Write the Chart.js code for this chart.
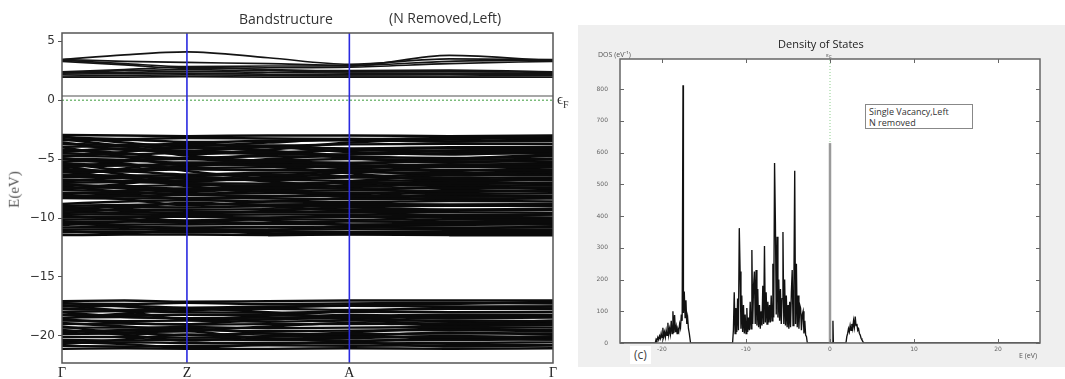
<!DOCTYPE html>
<html>
<head>
<meta charset="utf-8">
<script src="https://cdn.jsdelivr.net/npm/chart.js@4.4.1/dist/chart.umd.min.js"></script>
<style>
  body { margin: 0; background: #fff; width: 1065px; height: 379px; overflow: hidden; position: relative; font-family: 'Open Sans', sans-serif; }
  .txt { position: absolute; white-space: nowrap; line-height: 1; }
  #bandWrap { position: absolute; left: 0; top: 0; width: 575px; height: 379px; }
  #dosWrap { position: absolute; left: 578px; top: 25px; width: 487px; height: 342px; background: #efefef; }
</style>
</head>
<body>
<div id="bandWrap"><canvas id="bandChart" width="575" height="379"></canvas></div>
<div id="dosWrap"><canvas id="dosChart" width="487" height="342"></canvas></div>

<!-- left panel texts -->
<div class="txt" style="left:239px; top:12px; font-size:14px; color:#333;">Bandstructure</div>
<div class="txt" style="left:389px; top:11px; font-size:14px; color:#333;">(N Removed,Left)</div>
<div class="txt" style="left:-4px; top:182px; font-family:'Liberation Serif',serif; font-size:15px; color:#555; transform:rotate(-90deg); transform-origin:center;">E(eV)</div>
<div class="txt" style="left:557px; top:92px; font-family:'Liberation Serif',serif; font-size:15px; color:#333;">ϵ<sub style="font-size:10px;">F</sub></div>

<!-- right panel texts -->
<div class="txt" style="left:778px; top:38px; font-size:11px; color:#222;">Density of States</div>
<div class="txt" style="left:598px; top:51px; font-size:7px; color:#555;">DOS (eV⁻¹)</div>
<div class="txt" style="left:826px; top:52px; font-size:6px; color:#666;">ε<sub>F</sub></div>
<div class="txt" style="left:865px; top:104px; width:108px; height:25px; border:1px solid #888; background:#fff; font-size:9px; line-height:11px; color:#333; padding:1px 0 0 3px; box-sizing:border-box;">Single Vacancy,Left<br>N removed</div>
<div class="txt" style="left:630px; top:346px; background:#fff; font-size:12px; color:#444; padding:3px 4px;">(c)</div>
<div class="txt" style="left:1019px; top:352px; font-size:7px; color:#555;">E (eV)</div>

<script>
// k path: Γ - Z - A - Γ
const kPoints = [0, 0.5, 1, 1.65, 2.3, 3.1, 3.93];
const kTicks = [0, 1, 2.3, 3.93];
const kLabels = ['Γ', 'Z', 'A', 'Γ'];
const energyTicks = [5, 0, -5, -10, -15, -20];
const highSym = [1, 2.3];

const conductionBands = [
  [3.45, 3.85, 4.1, 3.6, 3.05, 3.5, 3.45],
  [3.45, 3.3, 3.2, 3.1, 2.95, 3.3, 3.4],
  [3.4, 3.1, 2.85, 2.9, 2.9, 3.8, 3.35],
  [3.3, 3.0, 2.7, 2.75, 2.8, 3.1, 3.3],
  [2.4, 2.6, 2.8, 2.6, 2.5, 2.55, 2.4],
  [2.35, 2.5, 2.6, 2.5, 2.4, 2.45, 2.35],
  [2.3, 2.35, 2.45, 2.35, 2.3, 2.3, 2.3],
  [2.2, 2.25, 2.3, 2.2, 2.15, 2.2, 2.2],
  [2.05, 2.1, 2.15, 2.1, 2.05, 2.05, 2.1],
  [1.95, 1.95, 2.0, 1.95, 1.95, 1.95, 1.95],
];
const defectBand = [0.35, 0.35, 0.35, 0.35, 0.35, 0.35, 0.35];

const valenceBands = [
  [-2.95, -3.0, -3.05, -3.0, -3.0, -3.05, -3.0],
  [-3.15, -3.3, -3.2, -3.25, -3.3, -3.2, -3.15],
  [-3.4, -3.35, -3.55, -3.45, -3.4, -3.5, -3.45],
  [-3.7, -3.8, -3.7, -3.85, -3.75, -3.7, -3.7],
  [-3.95, -3.9, -4.05, -3.95, -4.1, -4.0, -3.95],
  [-4.3, -4.15, -4.3, -4.4, -4.25, -4.35, -4.3],
  [-4.5, -4.6, -4.45, -4.55, -4.6, -4.5, -4.5],
  [-4.7, -4.8, -4.9, -4.75, -4.8, -4.9, -4.75],
  [-4.95, -5.05, -4.95, -5.1, -5.0, -5.05, -5.0],
  [-5.2, -5.15, -5.3, -5.25, -5.3, -5.2, -5.2],
  [-5.4, -5.5, -5.45, -5.5, -5.55, -5.45, -5.45],
  [-5.6, -5.55, -5.75, -5.7, -5.65, -5.7, -5.65],
  [-5.9, -6.0, -5.85, -5.95, -5.9, -5.95, -5.9],
  [-6.1, -6.05, -6.3, -6.15, -6.1, -6.2, -6.1],
  [-6.3, -6.4, -6.4, -6.35, -6.45, -6.35, -6.35],
  [-6.55, -6.5, -6.6, -6.65, -6.55, -6.6, -6.55],
  [-6.75, -6.85, -6.8, -6.75, -6.85, -6.8, -6.8],
  [-7.0, -6.95, -7.05, -7.1, -7.0, -7.05, -7.0],
  [-7.2, -7.3, -7.2, -7.25, -7.3, -7.2, -7.25],
  [-7.45, -7.4, -7.5, -7.45, -7.5, -7.45, -7.45],
  [-7.65, -7.7, -7.6, -7.7, -7.65, -7.7, -7.7],
  [-7.9, -7.85, -7.95, -7.9, -7.85, -7.95, -7.9],
  [-8.1, -8.15, -8.05, -8.15, -8.1, -8.2, -8.15],
  [-8.3, -8.35, -8.3, -8.35, -8.4, -8.35, -8.35],
  [-8.8, -8.6, -8.5, -8.6, -8.65, -8.55, -8.6],
  [-8.95, -8.9, -8.8, -8.85, -8.8, -8.85, -8.8],
  [-9.15, -9.05, -9.1, -9.0, -9.0, -8.95, -8.95],
  [-9.35, -9.3, -9.3, -9.25, -9.3, -9.3, -9.3],
  [-9.5, -9.55, -9.5, -9.5, -9.5, -9.5, -9.55],
  [-9.7, -9.7, -9.75, -9.7, -9.7, -9.75, -9.7],
  [-9.95, -9.9, -9.9, -9.95, -9.9, -9.9, -9.95],
  [-10.15, -10.1, -10.2, -10.1, -10.15, -10.1, -10.1],
  [-10.35, -10.3, -10.35, -10.4, -10.3, -10.35, -10.35],
  [-10.5, -10.55, -10.55, -10.5, -10.55, -10.5, -10.55],
  [-10.8, -10.75, -10.8, -10.75, -10.8, -10.8, -10.8],
  [-11.0, -10.95, -11.0, -11.0, -10.95, -11.0, -11.0],
  [-11.2, -11.15, -11.2, -11.15, -11.2, -11.2, -11.2],
  [-11.45, -11.4, -11.4, -11.45, -11.4, -11.45, -11.45],
  // dispersive bands crossing the block
  [-3.3, -3.9, -4.6, -4.2, -3.6, -3.3, -3.2],
  [-4.0, -4.8, -5.5, -5.0, -4.6, -4.3, -4.1],
  [-5.0, -5.4, -6.0, -6.6, -6.1, -5.6, -5.3],
  [-6.4, -5.8, -5.3, -5.6, -6.2, -6.8, -6.6],
  [-7.6, -7.1, -6.5, -6.9, -7.4, -7.8, -7.6],
  [-8.0, -8.4, -8.9, -8.6, -8.3, -8.1, -8.1],
  [-9.6, -9.2, -8.7, -9.0, -9.4, -9.8, -9.7],
  [-10.6, -10.3, -9.8, -10.2, -10.6, -10.9, -10.7],
  [-5.6, -6.3, -7.0, -7.4, -6.9, -6.3, -5.9],
  [-4.8, -4.4, -4.0, -4.3, -4.9, -5.3, -5.0],
  [-3.1, -3.6, -3.9, -3.6, -3.3, -3.5, -3.3],
  [-3.6, -4.2, -4.3, -4.0, -4.4, -4.6, -4.4],
  [-4.4, -4.1, -4.7, -5.2, -5.4, -5.0, -4.6],
  [-5.3, -5.9, -5.6, -5.3, -5.8, -6.0, -5.7],
  [-6.0, -6.6, -6.9, -6.5, -6.0, -6.4, -6.2],
  [-6.9, -6.6, -7.3, -7.6, -7.2, -6.9, -7.1],
  [-7.3, -7.8, -8.0, -7.7, -8.2, -7.6, -7.4],
  [-8.2, -8.0, -8.4, -8.2, -8.0, -8.5, -8.25],
  [-9.0, -9.4, -9.6, -9.4, -9.1, -9.3, -9.2],
  [-9.8, -10.1, -10.4, -10.0, -9.8, -10.3, -10.2],
  [-10.4, -10.7, -10.9, -11.0, -10.7, -10.6, -10.5],
  [-11.1, -11.3, -11.0, -11.3, -11.35, -11.3, -11.3],
  [-4.2, -4.5, -5.0, -4.6, -4.2, -4.1, -4.2],
  [-5.8, -5.2, -5.0, -5.4, -5.7, -5.5, -5.5],
  [-7.1, -7.5, -7.8, -7.3, -7.0, -7.3, -7.2],
];

const lowBands = [
  [-17.05, -17.0, -17.1, -17.05, -17.0, -17.0, -17.0],
  [-17.25, -17.3, -17.2, -17.3, -17.25, -17.2, -17.25],
  [-17.5, -17.45, -17.6, -17.5, -17.45, -17.5, -17.5],
  [-17.7, -17.8, -17.75, -17.7, -17.8, -17.7, -17.7],
  [-17.95, -17.9, -18.0, -18.05, -17.95, -18.0, -17.95],
  [-18.2, -18.25, -18.2, -18.25, -18.3, -18.2, -18.2],
  [-18.45, -18.4, -18.5, -18.45, -18.4, -18.5, -18.45],
  [-18.7, -18.75, -18.7, -18.8, -18.7, -18.7, -18.75],
  [-19.0, -18.95, -19.05, -19.0, -19.0, -18.95, -19.0],
  [-19.3, -19.3, -19.25, -19.35, -19.3, -19.25, -19.3],
  [-19.6, -19.55, -19.5, -19.6, -19.55, -19.5, -19.6],
  [-19.85, -19.8, -19.9, -19.8, -19.85, -19.8, -19.8],
  [-20.1, -20.1, -20.15, -20.05, -20.1, -20.1, -20.05],
  [-20.35, -20.4, -20.3, -20.35, -20.4, -20.35, -20.3],
  [-20.6, -20.55, -20.6, -20.6, -20.65, -20.6, -20.55],
  [-20.85, -20.9, -20.85, -20.8, -20.85, -20.8, -20.8],
  [-21.1, -21.05, -21.1, -21.1, -21.05, -21.1, -21.05],
  [-17.4, -17.9, -18.6, -18.3, -17.9, -17.6, -17.5],
  [-18.5, -18.1, -17.7, -18.0, -18.6, -19.0, -18.7],
  [-19.5, -19.9, -20.4, -20.0, -19.7, -19.4, -19.5],
  [-20.7, -20.3, -19.9, -20.2, -20.5, -20.9, -20.8],
  [-17.2, -17.5, -17.8, -17.6, -17.4, -17.3, -17.1],
  [-18.0, -18.4, -18.5, -18.6, -18.2, -18.4, -18.3],
  [-18.9, -19.2, -19.5, -19.2, -18.9, -19.1, -19.1],
  [-19.7, -19.5, -19.4, -19.8, -20.0, -19.7, -19.9],
  [-20.5, -20.7, -21.0, -20.7, -20.5, -20.2, -20.3],
  [-18.6, -18.9, -19.0, -18.6, -18.5, -18.8, -18.9],
  [-19.2, -19.7, -19.6, -20.3, -20.2, -20.0, -20.2],
];

// DOS: [energy (eV), states/eV]
const dosPoints = [
  [-25, 0], [-20.8, 0], [-20.7, 12], [-20.6, 8], [-20.5, 18], [-20.4, 10], [-20.3, 22], [-20.2, 14],
  [-20.1, 30], [-20.0, 16], [-19.9, 48], [-19.8, 20], [-19.7, 34], [-19.6, 18], [-19.5, 40], [-19.4, 24],
  [-19.3, 64], [-19.2, 26], [-19.1, 45], [-19.0, 28], [-18.9, 70], [-18.8, 30], [-18.7, 100], [-18.6, 32],
  [-18.5, 88], [-18.4, 34], [-18.3, 52], [-18.2, 30], [-18.1, 44], [-18.0, 36], [-17.9, 60], [-17.8, 48],
  [-17.7, 90], [-17.6, 70], [-17.5, 812], [-17.45, 95], [-17.35, 162], [-17.25, 80], [-17.15, 135],
  [-17.05, 60], [-16.95, 80], [-16.85, 45], [-16.75, 30], [-16.6, 0],
  [-11.6, 0], [-11.5, 40], [-11.4, 160], [-11.3, 30], [-11.2, 110], [-11.1, 35], [-11.0, 140], [-10.9, 40],
  [-10.8, 362], [-10.7, 225], [-10.6, 45], [-10.5, 150], [-10.4, 35], [-10.3, 120], [-10.2, 30], [-10.1, 90],
  [-10.0, 30], [-9.9, 110], [-9.8, 35], [-9.7, 80], [-9.6, 40], [-9.5, 130], [-9.4, 45], [-9.3, 293],
  [-9.2, 60], [-9.1, 180], [-9.0, 225], [-8.9, 60], [-8.8, 230], [-8.7, 55], [-8.6, 170], [-8.5, 50],
  [-8.4, 120], [-8.3, 45], [-8.2, 100], [-8.1, 55], [-8.0, 180], [-7.9, 60], [-7.8, 306], [-7.7, 65],
  [-7.6, 160], [-7.5, 60], [-7.4, 130], [-7.3, 65], [-7.2, 120], [-7.1, 65], [-7.0, 150], [-6.9, 70],
  [-6.8, 250], [-6.7, 80], [-6.6, 567], [-6.5, 382], [-6.4, 90], [-6.3, 335], [-6.2, 80], [-6.1, 200],
  [-6.0, 70], [-5.9, 170], [-5.8, 60], [-5.7, 140], [-5.6, 350], [-5.5, 60], [-5.4, 200], [-5.3, 55],
  [-5.2, 150], [-5.1, 50], [-5.0, 120], [-4.9, 45], [-4.8, 130], [-4.7, 50], [-4.6, 160], [-4.5, 230],
  [-4.4, 55], [-4.3, 180], [-4.2, 543], [-4.1, 60], [-4.0, 250], [-3.9, 50], [-3.8, 150], [-3.7, 45],
  [-3.6, 120], [-3.5, 110], [-3.4, 40], [-3.3, 90], [-3.2, 100], [-3.1, 30], [-3.0, 70], [-2.9, 25],
  [-2.8, 20], [-2.7, 0],
  [0.3, 0], [0.35, 70], [0.4, 0],
  [1.9, 0], [2.0, 20], [2.1, 30], [2.2, 45], [2.3, 35], [2.4, 55], [2.5, 40], [2.6, 60], [2.7, 45],
  [2.8, 70], [2.9, 50], [3.0, 83], [3.1, 55], [3.2, 60], [3.3, 40], [3.4, 45], [3.5, 30], [3.6, 25],
  [3.7, 15], [3.8, 10], [3.9, 5], [4.0, 0], [25, 0],
];
const fermiPeak = [[0, 0], [0, 630]];
const dosTicks = [0, 100, 200, 300, 400, 500, 600, 700, 800];
const dosEnergyTicks = [-20, -10, 0, 10, 20];

const E_MIN = -22.3, E_MAX = 5.7;
const DOS_MAX = 895;

// frame around the plotting area
const framePlugin = {
  id: 'frame',
  beforeDatasetsDraw(chart, args, opts) {
    if (!opts.fill) return;
    const a = chart.chartArea;
    chart.ctx.save();
    chart.ctx.fillStyle = opts.fill;
    chart.ctx.fillRect(a.left, a.top, a.right - a.left, a.bottom - a.top);
    chart.ctx.restore();
  },
  afterDraw(chart, args, opts) {
    const { ctx, chartArea: a, scales } = chart;
    ctx.save();
    ctx.strokeStyle = opts.color;
    ctx.lineWidth = opts.width;
    ctx.strokeRect(a.left, a.top, a.right - a.left, a.bottom - a.top);
    if (opts.inwardTicks) {
      ctx.lineWidth = 1;
      scales.y.ticks.forEach(t => {
        const y = Math.round(scales.y.getPixelForValue(t.value)) + 0.5;
        ctx.beginPath();
        ctx.moveTo(a.left, y); ctx.lineTo(a.left + 4, y);
        ctx.moveTo(a.right, y); ctx.lineTo(a.right - 4, y);
        ctx.stroke();
      });
      scales.x.ticks.forEach(t => {
        const x = Math.round(scales.x.getPixelForValue(t.value)) + 0.5;
        ctx.beginPath();
        ctx.moveTo(x, a.bottom); ctx.lineTo(x, a.bottom - 4);
        ctx.moveTo(x, a.top); ctx.lineTo(x, a.top + 4);
        ctx.stroke();
      });
    }
    ctx.restore();
  }
};

const toXY = band => kPoints.map((k, i) => ({ x: k, y: band[i] }));
const bandStyle = (color, width) => ({
  borderColor: color, borderWidth: width, pointRadius: 0,
  cubicInterpolationMode: 'monotone', fill: false,
});

const bandDatasets = [
  // first dataset is drawn on top
  ...highSym.map(k => ({
    data: [{ x: k, y: E_MIN }, { x: k, y: E_MAX }],
    borderColor: '#2a2ae0', borderWidth: 1.6, pointRadius: 0,
  })),
  {
    data: [{ x: kPoints[0], y: 0 }, { x: kPoints[kPoints.length - 1], y: 0 }],
    borderColor: '#3a9a3a', borderWidth: 1, borderDash: [2, 2], pointRadius: 0,
  },
  { data: toXY(defectBand), ...bandStyle('#8a8a8a', 1.6) },
  ...conductionBands.map(b => ({ data: toXY(b), ...bandStyle('#141414', 1.7) })),
  ...valenceBands.map(b => ({ data: toXY(b), ...bandStyle('#0a0a0a', 2.5) })),
  ...lowBands.map(b => ({ data: toXY(b), ...bandStyle('#0a0a0a', 2.4) })),
];

new Chart(document.getElementById('bandChart'), {
  type: 'line',
  data: { datasets: bandDatasets },
  options: {
    responsive: false,
    animation: false,
    layout: { padding: { top: 33, right: 22, left: 0, bottom: 0 } },
    plugins: {
      legend: { display: false },
      tooltip: { enabled: false },
      frame: { color: '#555', width: 1.5 },
    },
    scales: {
      x: {
        type: 'linear', min: 0, max: kTicks[kTicks.length - 1],
        afterFit: s => { s.height = 16; },
        afterBuildTicks: s => { s.ticks = kTicks.map(v => ({ value: v })); },
        grid: { display: false, drawTicks: false, tickLength: 0 },
        border: { display: false },
        ticks: {
          autoSkip: false, maxRotation: 0, padding: 2,
          font: { family: 'Liberation Serif', size: 14 }, color: '#222',
          callback: (v, i) => kLabels[i],
        },
      },
      y: {
        min: E_MIN, max: E_MAX,
        afterFit: s => { s.width = 62; },
        afterBuildTicks: s => { s.ticks = energyTicks.map(v => ({ value: v })); },
        grid: { drawOnChartArea: false, tickLength: 4, color: '#555' },
        border: { display: false },
        ticks: {
          padding: 3, font: { family: 'DejaVu Sans', size: 12 }, color: '#333',
          callback: v => String(v).replace('-', '\u2212'),
        },
      },
    },
  },
  plugins: [framePlugin],
});

new Chart(document.getElementById('dosChart'), {
  type: 'line',
  data: {
    datasets: [
      {
        data: fermiPeak.map(p => ({ x: p[0], y: p[1] })),
        borderColor: '#9a9a9a', borderWidth: 2.5, pointRadius: 0,
      },
      {
        data: dosPoints.map(p => ({ x: p[0], y: p[1] })),
        borderColor: '#111', borderWidth: 1.35, pointRadius: 0, tension: 0,
      },
      {
        data: [{ x: 0, y: 0 }, { x: 0, y: DOS_MAX }],
        borderColor: '#8ccf8c', borderWidth: 1, borderDash: [1, 2], pointRadius: 0,
      },
    ],
  },
  options: {
    responsive: false,
    animation: false,
    layout: { padding: { top: 34, right: 25, left: 0, bottom: 0 } },
    plugins: {
      legend: { display: false },
      tooltip: { enabled: false },
      frame: { color: '#666', width: 1.5, inwardTicks: true, fill: '#fff' },
    },
    scales: {
      x: {
        type: 'linear', min: -25, max: 25,
        afterFit: s => { s.height = 24; },
        afterBuildTicks: s => { s.ticks = dosEnergyTicks.map(v => ({ value: v })); },
        grid: { display: false, drawTicks: false, tickLength: 0 },
        border: { display: false },
        ticks: { padding: 3, font: { family: 'DejaVu Sans', size: 6 }, color: '#666', maxRotation: 0 },
      },
      y: {
        min: 0, max: DOS_MAX,
        afterFit: s => { s.width = 42; },
        afterBuildTicks: s => { s.ticks = dosTicks.map(v => ({ value: v })); },
        grid: { display: false, drawTicks: false, tickLength: 0 },
        border: { display: false },
        ticks: { padding: 12, font: { family: 'DejaVu Sans', size: 6 }, color: '#666' },
      },
    },
  },
  plugins: [framePlugin],
});
</script>
</body>
</html>
